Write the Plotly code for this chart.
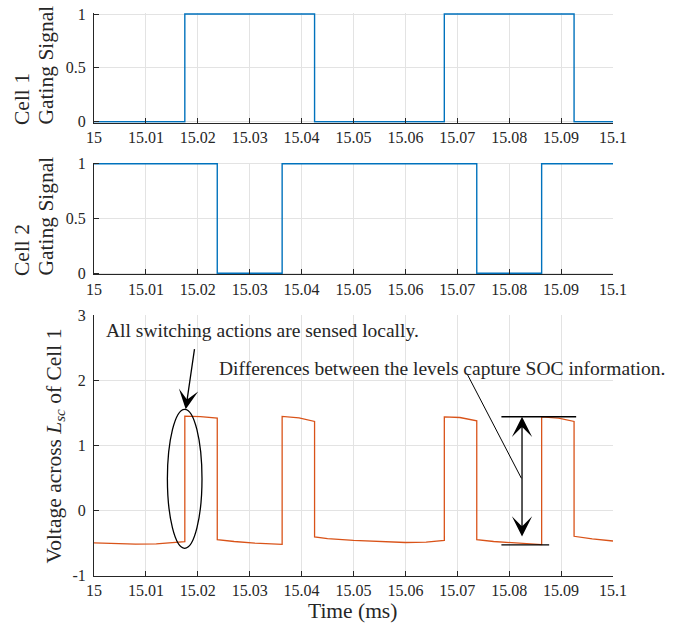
import plotly.graph_objects as go

# ---------------- data ----------------
x_ticks = [15.0, 15.01, 15.02, 15.03, 15.04, 15.05, 15.06, 15.07, 15.08, 15.09, 15.1]
x_ticklabels = ["15", "15.01", "15.02", "15.03", "15.04", "15.05", "15.06", "15.07", "15.08", "15.09", "15.1"]
gate_ticks = [0, 0.5, 1]
gate_ticklabels = ["0", "0.5", "1"]
volt_ticks = [-1, 0, 1, 2, 3]
volt_ticklabels = ["-1", "0", "1", "2", "3"]

t_cell1 = [15.0, 15.0175, 15.0425, 15.0675, 15.0925, 15.1]
g_cell1 = [0, 1, 0, 1, 0, 0]

t_cell2 = [15.0, 15.02375, 15.03625, 15.07375, 15.08625, 15.1]
g_cell2 = [1, 0, 1, 0, 1, 1]

t_volt = [15.000, 15.004, 15.008, 15.012, 15.015, 15.0175,
          15.0175, 15.0205, 15.02375,
          15.02375, 15.027, 15.031, 15.03625,
          15.03625, 15.0395, 15.0425,
          15.0425, 15.045, 15.050, 15.055, 15.060, 15.064, 15.0675,
          15.0675, 15.0705, 15.07375,
          15.07375, 15.077, 15.081, 15.08625,
          15.08625, 15.0895, 15.0925,
          15.0925, 15.096, 15.100]
v_volt = [-0.495, -0.51, -0.515, -0.51, -0.497, -0.477,
          1.452, 1.445, 1.42,
          -0.446, -0.475, -0.50, -0.518,
          1.446, 1.425, 1.37,
          -0.405, -0.43, -0.456, -0.478, -0.49, -0.485, -0.456,
          1.44, 1.43, 1.38,
          -0.446, -0.475, -0.50, -0.523,
          1.44, 1.42, 1.37,
          -0.395, -0.435, -0.467]

# ---------------- layout helpers ----------------
W, H = 681, 624
ML, MR, MT, MB = 94, 68, 10, 48
PW = W - ML - MR
PH = H - MT - MB


def px_x(p):
    return (p - ML) / PW


def px_y(p):
    return (H - MB - p) / PH


FONT = "Liberation Serif"
INK = "#262626"
GRID = "#e3e3e3"
BLUE = "#0072BD"
ORANGE = "#D95319"

PAD = 0.01  # small pad so lines at 0/1 are not clipped


def gate_domain(top_px, bot_px):
    span = bot_px - top_px
    return [px_y(bot_px + PAD * span), px_y(top_px - PAD * span)]


def axis_common():
    return dict(
        showline=True, linecolor=INK, linewidth=1,
        ticks="inside", ticklen=5, tickcolor=INK, tickwidth=1,
        showgrid=True, gridcolor=GRID, gridwidth=1,
        zeroline=False, mirror=False, automargin=False,
        tickfont=dict(family=FONT, size=16, color=INK),
    )


fig = go.Figure()
fig.add_trace(go.Scatter(x=t_cell1, y=g_cell1, mode="lines", line=dict(color=BLUE, width=1.4, shape="hv"),
                         xaxis="x", yaxis="y", showlegend=False))
fig.add_trace(go.Scatter(x=t_cell2, y=g_cell2, mode="lines", line=dict(color=BLUE, width=1.4, shape="hv"),
                         xaxis="x2", yaxis="y2", showlegend=False))
fig.add_trace(go.Scatter(x=t_volt, y=v_volt, mode="lines", line=dict(color=ORANGE, width=1.3),
                         xaxis="x3", yaxis="y3", showlegend=False))

xa = dict(axis_common(), range=[15, 15.1], tickvals=x_ticks, ticktext=x_ticklabels, ticklabelstandoff=0)
ya = dict(axis_common(), ticklabelstandoff=4)
fig.update_layout(
    template="none",
    width=W, height=H,
    margin=dict(l=ML, r=MR, t=MT, b=MB, autoexpand=False),
    paper_bgcolor="white", plot_bgcolor="white",
    font=dict(family=FONT, color=INK),
    xaxis=dict(xa, domain=[0, 1], anchor="y"),
    xaxis2=dict(xa, domain=[0, 1], anchor="y2"),
    xaxis3=dict(xa, domain=[0, 1], anchor="y3"),
    yaxis=dict(ya, range=[-PAD, 1 + PAD], tickvals=gate_ticks, ticktext=gate_ticklabels,
               domain=gate_domain(14, 121.7), anchor="x"),
    yaxis2=dict(ya, range=[-PAD, 1 + PAD], tickvals=gate_ticks, ticktext=gate_ticklabels,
                domain=gate_domain(163.7, 273.3), anchor="x2"),
    yaxis3=dict(ya, range=[-1, 3], tickvals=volt_ticks, ticktext=volt_ticklabels,
                domain=[px_y(575.7), px_y(315.3)], anchor="x3"),
)

TITLE = dict(family=FONT, size=21.5, color=INK)
ANN = dict(family=FONT, size=19.5, color=INK)
annotations = []


def ptxt(text, x, y, xanchor, yanchor, font, angle=0):
    annotations.append(dict(text=text, x=px_x(x), y=px_y(y), xref="paper", yref="paper",
                            xanchor=xanchor, yanchor=yanchor, showarrow=False, font=font,
                            textangle=angle))


ptxt("Cell 1", 22, 127, "center", "bottom", TITLE, -90)
ptxt("Gating Signal", 45, 127, "center", "bottom", TITLE, -90)
ptxt("Cell 2", 22, 278, "center", "bottom", TITLE, -90)
ptxt("Gating Signal", 45, 278, "center", "bottom", TITLE, -90)
ptxt("Voltage across <i>L</i><sub><i>sc</i></sub> of Cell 1", 55, 446.5, "center", "middle", TITLE, -90)
ptxt("Time (ms)", 352.5, 611, "center", "middle", TITLE)
ptxt("All switching actions are sensed locally.", 104, 330, "left", "middle", ANN)
ptxt("Differences between the levels capture SOC information.", 217, 368, "left", "middle", ANN)

# arrow from text to the ellipse
annotations.append(dict(x=15.01767, y=1.556, ax=15.0196, ay=2.61, xref="x3", yref="y3",
                        axref="x3", ayref="y3", text=" ", showarrow=True, arrowhead=3,
                        arrowsize=2.5, arrowwidth=1.3, arrowcolor="black", standoff=0))
# double arrow between levels
annotations.append(dict(x=15.08247, y=1.442, ax=15.08247, ay=-0.528, xref="x3", yref="y3",
                        axref="x3", ayref="y3", text=" ", showarrow=True, arrowhead=3,
                        arrowside="end+start", arrowsize=2.6, arrowwidth=1.3, arrowcolor="black",
                        standoff=0, startstandoff=0))
fig.update_layout(annotations=annotations)

shapes = [
    dict(type="circle", xref="x3", yref="y3", x0=15.01414, x1=15.02081, y0=-0.579, y1=1.556,
         line=dict(color="black", width=1.3)),
    dict(type="line", xref="x3", yref="y3", x0=15.0785, x1=15.0929, y0=1.442, y1=1.442,
         line=dict(color="black", width=1.3)),
    dict(type="line", xref="x3", yref="y3", x0=15.0785, x1=15.0877, y0=-0.528, y1=-0.528,
         line=dict(color="black", width=1.3)),
    dict(type="line", xref="x3", yref="y3", x0=15.072, x1=15.08235, y0=2.083, y1=0.496,
         line=dict(color="black", width=1)),
]
fig.update_layout(shapes=shapes)

fig.write_html("out.html", config={"displayModeBar": False},
               post_script="document.body.style.margin='0';document.body.style.overflow='hidden';")
